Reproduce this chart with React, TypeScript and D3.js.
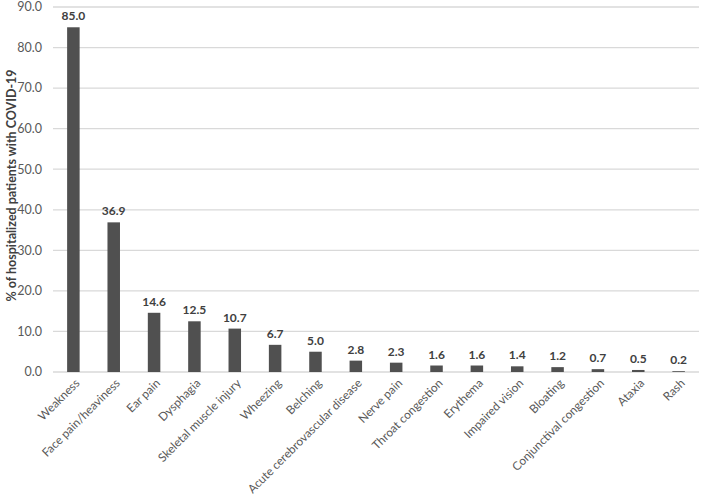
import React, { useRef, useEffect } from 'react'
import * as d3 from 'd3'

const categories = [
  'Weakness', 'Face pain/heaviness', 'Ear pain', 'Dysphagia', 'Skeletal muscle injury',
  'Wheezing', 'Belching', 'Acute cerebrovascular disease', 'Nerve pain', 'Throat congestion',
  'Erythema', 'Impaired vision', 'Bloating', 'Conjunctival congestion', 'Ataxia', 'Rash',
]
const percents = [85.0, 36.9, 14.6, 12.5, 10.7, 6.7, 5.0, 2.8, 2.3, 1.6, 1.6, 1.4, 1.2, 0.7, 0.5, 0.2]
const yTicks = [0, 10, 20, 30, 40, 50, 60, 70, 80, 90]
const yTitle = '% of hospitalized patients with COVID-19'

const FONT = 'Lato, "Open Sans", sans-serif'

const App = () => {
  const svgRef = useRef<SVGSVGElement>(null)

  useEffect(() => {
    document.body.style.margin = '0'
    const svg = d3.select(svgRef.current)
    svg.selectAll('*').remove()

    const margin = { left: 53, right: 10, top: 7, bottom: 126 }
    const width = 709, height = 498
    const x = d3.scaleBand<string>()
      .domain(categories)
      .range([margin.left, width - margin.right])
      .paddingInner(0.69)
      .paddingOuter(0.35)
    const y = d3.scaleLinear().domain([0, 90]).range([height - margin.bottom, margin.top])

    // gridlines
    svg.append('g')
      .selectAll('line')
      .data(yTicks)
      .enter().append('line')
      .attr('x1', margin.left)
      .attr('x2', width - margin.right)
      .attr('y1', d => y(d))
      .attr('y2', d => y(d))
      .attr('stroke', '#d9d9d9')
      .attr('stroke-width', 1.3)

    // y tick labels
    svg.append('g')
      .selectAll('text')
      .data(yTicks)
      .enter().append('text')
      .attr('x', 42)
      .attr('y', d => y(d))
      .attr('dy', '0.35em')
      .attr('text-anchor', 'end')
      .attr('font-family', FONT)
      .attr('font-size', 12.5)
      .attr('fill', '#595959')
      .text(d => d.toFixed(1))

    // bars
    svg.append('g')
      .selectAll('rect')
      .data(percents)
      .enter().append('rect')
      .attr('x', (d, i) => x(categories[i])!)
      .attr('y', d => y(d))
      .attr('width', x.bandwidth())
      .attr('height', d => y(0) - y(d))
      .attr('fill', '#505050')

    // value labels
    svg.append('g')
      .selectAll('text')
      .data(percents)
      .enter().append('text')
      .attr('x', (d, i) => x(categories[i])! + x.bandwidth() / 2)
      .attr('y', d => y(d) - 7)
      .attr('text-anchor', 'middle')
      .attr('font-family', FONT)
      .attr('font-size', 12)
      .attr('font-weight', 'bold')
      .attr('fill', '#404040')
      .text(d => d.toFixed(1))

    // x labels, rotated
    svg.append('g')
      .selectAll('text')
      .data(categories)
      .enter().append('text')
      .attr('transform', d => `translate(${x(d)! + x.bandwidth() / 2 + 4},${y(0) + 9}) rotate(-45)`)
      .attr('text-anchor', 'end')
      .attr('dy', '0.35em')
      .attr('font-family', FONT)
      .attr('font-size', 11.8)
      .attr('fill', '#595959')
      .text(d => d)

    // y axis title
    svg.append('text')
      .attr('transform', `translate(16,${(y(0) + y(90)) / 2 - 4}) rotate(-90)`)
      .attr('text-anchor', 'middle')
      .attr('font-family', FONT)
      .attr('font-size', 12.5)
      .attr('font-weight', 'bold')
      .attr('fill', '#404040')
      .text(yTitle)
  }, [])

  return <svg ref={svgRef} width={709} height={498} style={{ display: 'block' }}></svg>
}

export default App
